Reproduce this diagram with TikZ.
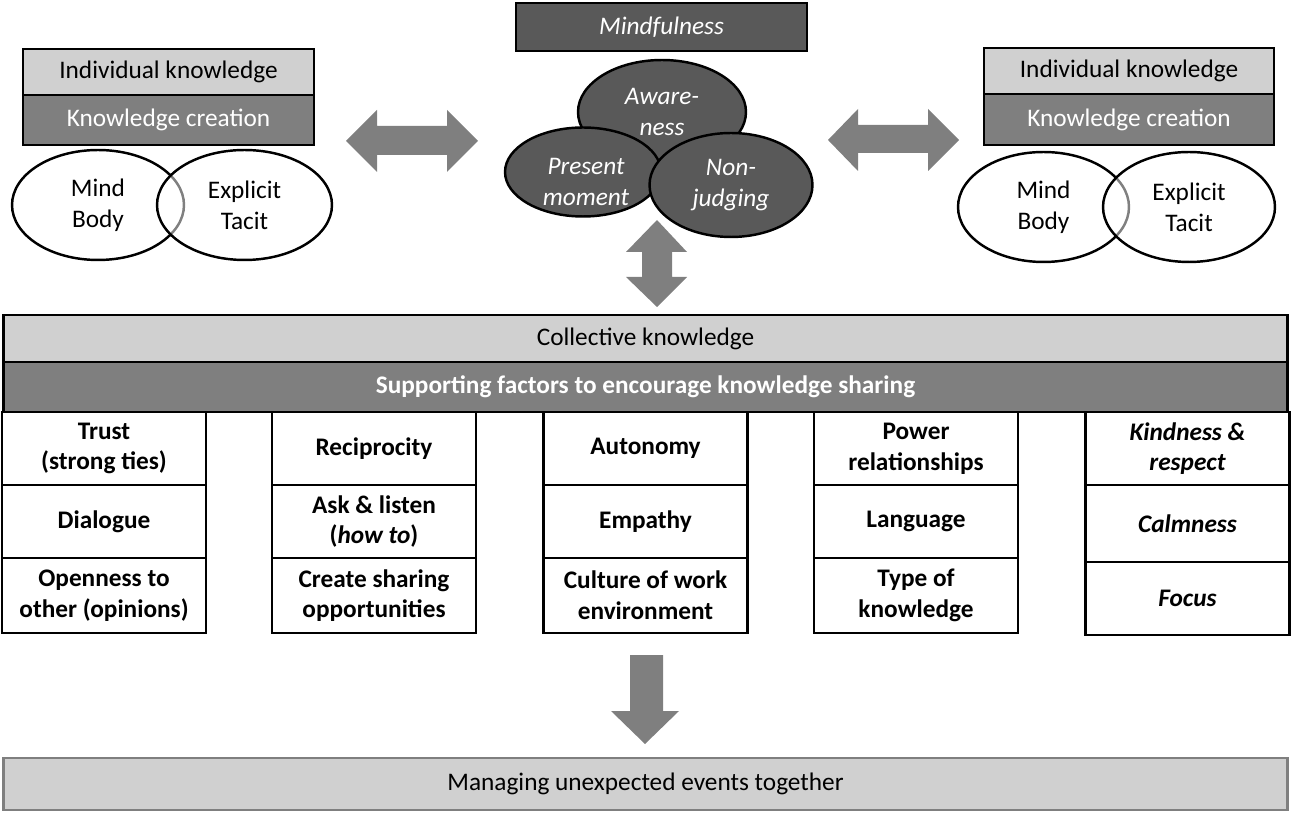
\documentclass[tikz,border=0pt]{standalone}
\usepackage{fontspec}
\setmainfont{Carlito}
\usetikzlibrary{shapes.geometric}

\definecolor{barlight}{RGB}{208,208,208}
\definecolor{barmid}{RGB}{127,127,127}
\definecolor{bardark}{RGB}{89,89,89}
\newcommand{\diagfont}{\fontsize{14.4}{17.5}\selectfont}

\begin{document}
\begin{tikzpicture}[x=0.02cm, y=-0.02cm,
	every node/.style={font=\diagfont, inner sep=0pt, align=center},
	bar/.style={rectangle, draw=black, line width=1.6pt},
	lightbar/.style={bar, fill=barlight},
	midbar/.style={bar, fill=barmid, text=white},
	factor/.style={bar, fill=white, minimum width=4.08cm, font=\diagfont\bfseries},
	venn/.style={ellipse, draw=black, line width=1.4pt, minimum height=2.2cm},
	mindell/.style={ellipse, draw=black, line width=1.4pt, fill=bardark, text=white, font=\diagfont\itshape},
	blockarrow/.style={fill=barmid}]
			\useasboundingbox (0,0) rectangle (1291,813);
			
			% individual knowledge, left
			\node[lightbar, minimum width=5.82cm, minimum height=0.92cm] (indL) at (168.5,72) {Individual knowledge};
			\node[midbar, minimum width=5.82cm, minimum height=1.0cm] (creL) at (168.5,120) {Knowledge creation};
			\node[venn, minimum width=3.44cm] (mindL) at (98,205) {Mind\\Body};
			\node[venn, minimum width=3.5cm, fill=white, fill opacity=0.5, text opacity=1] (explL) at (244.5,205) {Explicit\\Tacit};
			
			% individual knowledge, right
			\node[lightbar, minimum width=5.8cm, minimum height=0.92cm] (indR) at (1129,71) {Individual knowledge};
			\node[midbar, minimum width=5.8cm, minimum height=1.02cm] (creR) at (1129,119.5) {Knowledge creation};
			\node[venn, minimum width=3.42cm] (mindR) at (1043.5,207) {Mind\\Body};
			\node[venn, minimum width=3.44cm, fill=white, fill opacity=0.5, text opacity=1] (explR) at (1189,207) {Explicit\\Tacit};
			
			% mindfulness
			\node[bar, fill=bardark, text=white, font=\diagfont\itshape, minimum width=5.82cm, minimum height=0.96cm] (mind) at (661.5,27) {Mindfulness};
			\node[mindell, minimum width=3.36cm, minimum height=2.08cm] (aware) at (662,112) {Aware-\\ness};
			\node[mindell, minimum width=3.12cm, minimum height=1.78cm] (present) at (583,172) {};
			\node[font=\diagfont\itshape, text=white] (presentlbl) at (586,182) {Present\\moment};
			\node[mindell, minimum width=3.26cm, minimum height=2.08cm] (nonjudge) at (731,185) {Non-\\judging};
			
			\fill[blockarrow] (346,141) -- (377,110) -- (377,126) -- (447,126) -- (447,110) -- (478,141) -- (447,172) -- (447,155) -- (377,155) -- (377,172) -- cycle;
			\fill[blockarrow] (828,140) -- (858,109) -- (858,125) -- (928,125) -- (928,109) -- (959,140) -- (928,171) -- (928,153) -- (858,153) -- (858,171) -- cycle;
			\fill[blockarrow] (657,220) -- (687,252) -- (672,252) -- (672,277) -- (687,277) -- (657,307) -- (626,277) -- (642,277) -- (642,252) -- (626,252) -- cycle;
			
			% collective knowledge
			\node[lightbar, minimum width=25.7cm, minimum height=0.94cm] (coll) at (645.5,338.5) {Collective knowledge};
			\node[midbar, font=\diagfont\bfseries, minimum width=25.7cm, minimum height=1.0cm] (supp) at (645.5,387) {Supporting factors to encourage knowledge sharing};
			
			\node[factor, minimum height=1.46cm] (trust) at (104,448.5) {Trust\\(strong ties)};
			\node[factor, minimum height=1.46cm] (dialogue) at (104,521.5) {Dialogue};
			\node[factor, minimum height=1.5cm] (open) at (104,595.5) {Openness to\\other (opinions)};
			
			\node[factor, minimum height=1.46cm] (recip) at (374,448.5) {Reciprocity};
			\node[factor, minimum height=1.46cm] (ask) at (374,521.5) {Ask \& listen\\(\textit{how to})};
			\node[factor, minimum height=1.5cm] (create) at (374,595.5) {Create sharing\\opportunities};
			
			\node[factor, minimum height=1.46cm] (auto) at (645.5,448.5) {Autonomy};
			\node[factor, minimum height=1.46cm] (empathy) at (645.5,521.5) {Empathy};
			\node[factor, minimum height=1.5cm] (culture) at (645.5,595.5) {Culture of work\\environment};
			
			\node[factor, minimum height=1.46cm] (power) at (916,448.5) {Power\\relationships};
			\node[factor, minimum height=1.46cm] (lang) at (916,521.5) {Language};
			\node[factor, minimum height=1.5cm] (type) at (916,595.5) {Type of\\knowledge};
			
			\node[factor, font=\diagfont\bfseries\itshape, minimum height=1.46cm] (kind) at (1187.5,448.5) {Kindness \&\\respect};
			\node[factor, font=\diagfont\bfseries\itshape, minimum height=1.54cm] (calm) at (1187.5,523.5) {Calmness};
			\node[factor, font=\diagfont\bfseries\itshape, minimum height=1.46cm] (focus) at (1187.5,598.5) {Focus};
			
			% managing
			\fill[blockarrow] (630,655) -- (663,655) -- (663,711) -- (679,711) -- (645,744) -- (611,711) -- (630,711) -- cycle;
			\node[rectangle, draw=barmid, line width=1.6pt, fill=barlight, minimum width=25.7cm, minimum height=1.04cm] (manage) at (645.5,784) {Managing unexpected events together};
			\end{tikzpicture}
\end{document}
